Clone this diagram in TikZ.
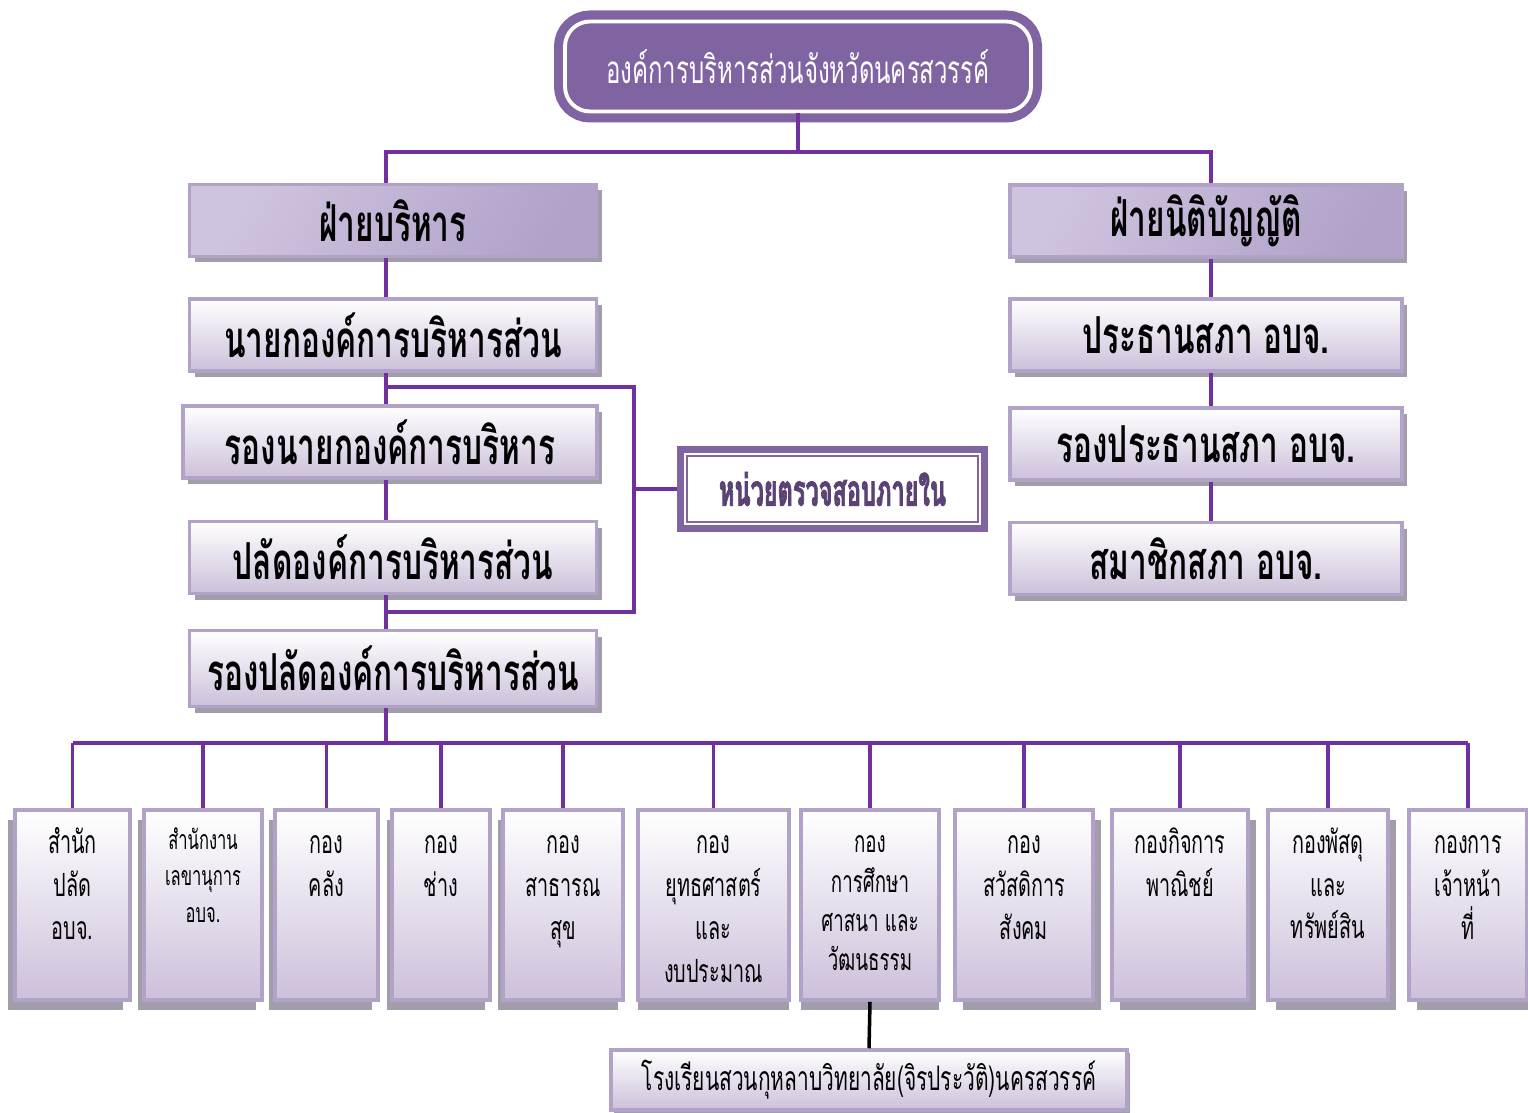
\documentclass[tikz,border=0pt]{standalone}
\usepackage{fontspec}
\setmainfont[Script=Thai, FakeStretch=0.62]{Loma}
\newfontfamily\inspfont[Script=Thai, FakeStretch=0.54, FakeBold=1.6]{Loma}
\usetikzlibrary{positioning,shadows}

\definecolor{orgpurple}{HTML}{8064A2}
\definecolor{linkpurple}{HTML}{7030A0}
\definecolor{boxedge}{HTML}{B3A2C7}
\definecolor{boxlow}{HTML}{CCC0DA}
\definecolor{shadowgray}{HTML}{A39CAB}
\definecolor{insptext}{HTML}{5A4275}
\definecolor{winglow}{HTML}{CFC4DF}
\definecolor{winghigh}{HTML}{ECE8F3}
\definecolor{wingdark}{HTML}{B1A2C9}

\tikzset{
    box/.style={
        draw=boxedge,
        line width=1pt,
        top color=white,
        bottom color=boxlow,
        inner sep=2pt
    },
    lift/.style 2 args={
        drop shadow={shadow xshift=#1, shadow yshift=#2, fill=shadowgray, opacity=1}
    },
    upper/.style={
        box,
        lift={0.05cm}{-0.06cm},
        minimum height=0.72cm,
        font=\bfseries\fontsize{14.5}{16}\selectfont
    },
    wing/.style={
        upper,
        left color=winglow,
        middle color=winghigh,
        right color=wingdark,
        shading angle=60
    },
    unit/.style={
        box,
        lift={#1}{-0.1cm},
        minimum height=1.9cm,
        inner sep=0pt
    },
    unit/.default=0cm,
    unitlbl/.style={
        anchor=north,
        yshift=-0.15cm,
        align=center,
        font=\fontsize{9.1}{12.2}\selectfont
    },
    tall/.style={
        yshift=0.08cm
    },
    orgbox/.style={
        fill=orgpurple,
        draw=white,
        line width=1.1pt,
        rounded corners=0.25cm,
        preaction={draw=orgpurple, line width=0.22cm},
        minimum width=4.66cm,
        minimum height=0.9cm,
        text=white,
        font=\fontsize{11}{13}\selectfont
    },
    inspbox/.style={
        draw=orgpurple,
        line width=0.07cm,
        fill=white,
        minimum width=3.04cm,
        minimum height=0.79cm,
        text=insptext,
        font=\inspfont\bfseries\fontsize{12.4}{14}\selectfont
    },
    link/.style={
        draw=linkpurple,
        line width=1pt
    }
}

\begin{document}
\begin{tikzpicture}
    \useasboundingbox (0,0) rectangle (15.28,-11.12);

    % Spitze
    \path node[orgbox] at (7.98,-0.665) (top) {องค์การบริหารส่วนจังหวัดนครสวรรค์};

    % ฝ่ายบริหาร
    \path
        node[wing, minimum width=4.07cm]  at (3.93,-2.205) (exec)   {ฝ่ายบริหาร}
        node[upper, minimum width=4.07cm] at (3.93,-3.35)  (mayor)  {นายกองค์การบริหารส่วน}
        node[upper, minimum width=4.14cm] at (3.90,-4.42)  (dmayor) {รองนายกองค์การบริหาร}
        node[upper, minimum width=4.07cm] at (3.93,-5.575) (palad)  {ปลัดองค์การบริหารส่วน}
        node[upper, minimum width=4.07cm, minimum height=0.76cm]
                                          at (3.93,-6.685) (dpalad) {รองปลัดองค์การบริหารส่วน};

    % ฝ่ายนิติบัญญัติ
    \path
        node[wing, minimum width=3.92cm]  at (12.06,-2.21)  (legis)  {ฝ่ายนิติบัญญัติ}
        node[upper, minimum width=3.92cm] at (12.06,-3.35)  (chair)  {ประธานสภา อบจ.}
        node[upper, minimum width=3.92cm] at (12.06,-4.44)  (vchair) {รองประธานสภา อบจ.}
        node[upper, minimum width=3.92cm] at (12.06,-5.585) (member) {สมาชิกสภา อบจ.};

    % หน่วยตรวจสอบภายใน
    \path node[inspbox] at (8.325,-4.89) (insp) {หน่วยตรวจสอบภายใน};
    \draw[orgpurple, line width=0.6pt]
        ([shift={(0.1,0.1)}]insp.south west) rectangle ([shift={(-0.1,-0.1)}]insp.north east);

    % Unterste Ebene: Ämter
    \path
        node[unit=-0.07cm, minimum width=1.15cm, label={[unitlbl, tall]north:สำนัก\\ปลัด\\อบจ.}]
            at (0.725,-9.05) (u1) {}
        node[unit=-0.06cm, minimum width=1.18cm,
             label={[unitlbl, tall, font=\fontsize{7.6}{10.4}\selectfont]north:สำนักงาน\\เลขานุการ\\อบจ.}]
            at (2.03,-9.05) (u2) {}
        node[unit=-0.06cm, minimum width=1.03cm, label={[unitlbl]north:กอง\\คลัง}]
            at (3.265,-9.05) (u3) {}
        node[unit=-0.05cm, minimum width=0.98cm, label={[unitlbl]north:กอง\\ช่าง}]
            at (4.41,-9.05) (u4) {}
        node[unit=-0.05cm, minimum width=1.20cm, label={[unitlbl]north:กอง\\สาธารณ\\สุข}]
            at (5.63,-9.05) (u5) {}
        node[unit, minimum width=1.51cm, label={[unitlbl]north:กอง\\ยุทธศาสตร์\\และ\\งบประมาณ}]
            at (7.135,-9.05) (u6) {}
        node[unit, minimum width=1.38cm,
             label={[unitlbl, font=\fontsize{8.6}{11.2}\selectfont]north:กอง\\การศึกษา\\ศาสนา และ\\วัฒนธรรม}]
            at (8.70,-9.05) (u7) {}
        node[unit=0.08cm, minimum width=1.38cm, label={[unitlbl]north:กอง\\สวัสดิการ\\สังคม}]
            at (10.24,-9.05) (u8) {}
        node[unit=0.08cm, minimum width=1.36cm, label={[unitlbl, tall]north:กองกิจการ\\พาณิชย์}]
            at (11.80,-9.05) (u9) {}
        node[unit=0.08cm, minimum width=1.20cm, label={[unitlbl, tall]north:กองพัสดุ\\และ\\ทรัพย์สิน}]
            at (13.28,-9.05) (u10) {}
        node[unit=0.08cm, minimum width=1.18cm, label={[unitlbl]north:กองการ\\เจ้าหน้า\\ที่}]
            at (14.68,-9.05) (u11) {};

    % Schule
    \path node[box, lift={0.03cm}{-0.03cm}, minimum width=5.16cm, minimum height=0.6cm,
               font=\fontsize{9.6}{12}\selectfont]
        at (8.69,-10.8) (school) {โรงเรียนสวนกุหลาบวิทยาลัย(จิรประวัติ)นครสวรรค์};

    % Hilfspunkte der Linien
    \coordinate (busA)   at (0,-1.52);
    \coordinate (busB)   at (0,-7.43);
    \coordinate (spineL) at (3.86,0);
    \coordinate (spineR) at (12.11,0);
    \coordinate (brack)  at (6.34,0);
    \coordinate (brTop)  at (3.86,-3.87);
    \coordinate (brBot)  at (3.86,-6.12);

    % Verbindungen oben
    \draw[link] (top.south) -- (top.south |- busA);
    \draw[link] (spineL |- exec.north) |- (spineR |- busA) -- (spineR |- legis.north);

    \foreach \a/\b in {exec/mayor, mayor/dmayor, dmayor/palad, palad/dpalad}
        \draw[link] (spineL |- \a.south) -- (spineL |- \b.north);
    \foreach \a/\b in {legis/chair, chair/vchair, vchair/member}
        \draw[link] (spineR |- \a.south) -- (spineR |- \b.north);

    % Klammer zur Innenrevision
    \draw[link] (brTop) -| (brack |- brBot) -- (brBot);
    \draw[link] (brack |- insp.west) -- (insp.west);

    % Verbindungen unten
    \draw[link] (spineL |- dpalad.south) -- (spineL |- busB);
    \draw[link] (u1.north |- busB) -- (u11.north |- busB);
    \foreach \k in {1,...,11}
        \draw[link] (u\k.north |- busB) -- (u\k.north);
    \draw[line width=1pt] (u7.south) -- (school.north);
\end{tikzpicture}
\end{document}
